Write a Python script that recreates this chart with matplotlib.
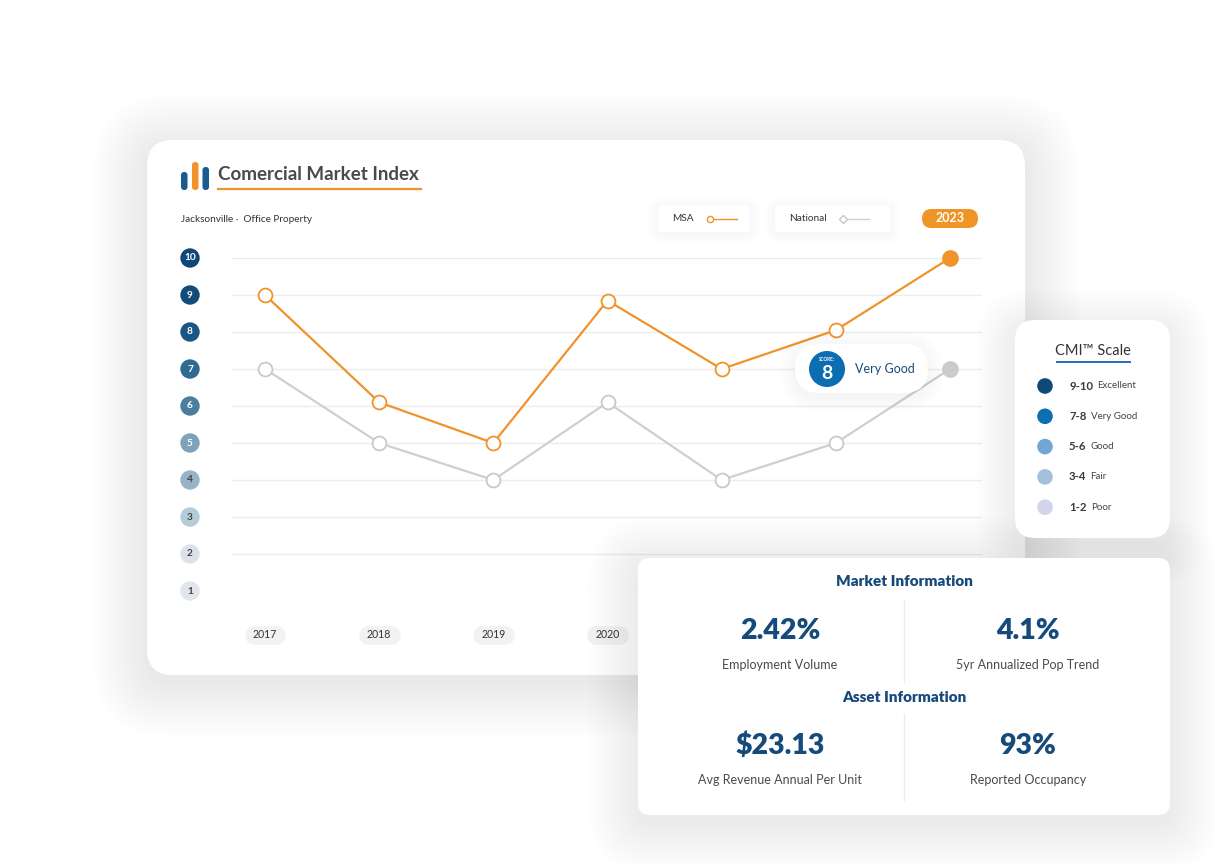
import matplotlib
matplotlib.use("Agg")
import matplotlib.pyplot as plt
from matplotlib.patches import FancyBboxPatch, Circle
import numpy as np

plt.rcParams['font.family'] = ['Lato', 'DejaVu Sans']

# ---------------- data ----------------
years = ["2017", "2018", "2019", "2020", "2021", "2022", "2023"]
msa = [9.0, 6.1, 5.0, 8.85, 7.0, 8.05, 10.0]
national = [7.0, 5.0, 4.0, 6.1, 4.0, 5.0, 7.0]
scores = [1, 2, 3, 4, 5, 6, 7, 8, 9, 10]
score_colors = ["#e1e6ed", "#dde2ea", "#b4cbd8", "#98b3c6", "#7fa2ba",
                "#4b7d9f", "#2f6a92", "#1b5683", "#124c7a", "#0f4876"]
score_text_colors = ["#444", "#444", "#444", "#444", "white",
                     "white", "white", "white", "white", "white"]
scale_ranges = ["9-10", "7-8", "5-6", "3-4", "1-2"]
scale_labels = ["Excellent", "Very Good", "Good", "Fair", "Poor"]
scale_colors = ["#0d4a78", "#0d6eb0", "#72a6d3", "#a6bfdf", "#d3d3ea"]
market_values = ["2.42%", "4.1%"]
market_labels = ["Employment Volume", "5yr Annualized Pop Trend"]
asset_values = ["$23.13", "93%"]
asset_labels = ["Avg Revenue Annual Per Unit", "Reported Occupancy"]
current_score = 8
current_label = "Very Good"

W, H = 1215, 864
ORANGE = "#f0932a"
NAVY = "#154a7a"

fig = plt.figure(figsize=(W / 100, H / 100), dpi=100)
fig.patch.set_facecolor("white")


def pixel_axes(z):
    a = fig.add_axes([0, 0, 1, 1], zorder=z)
    a.set_xlim(0, W)
    a.set_ylim(H, 0)
    a.axis("off")
    a.patch.set_alpha(0)
    return a


def card(a, x0, y0, x1, y1, r, shadow=50, salpha=0.0035, n=20, z=1, offset=8):
    if shadow:
        for s in np.linspace(0, shadow, n):
            a.add_patch(FancyBboxPatch((x0 - s, y0 - s + offset), (x1 - x0) + 2 * s,
                                       (y1 - y0) + 2 * s,
                                       boxstyle=f"round,pad=0,rounding_size={r + s}",
                                       fc="#66758c", ec="none", alpha=salpha, zorder=z))
    a.add_patch(FancyBboxPatch((x0, y0), x1 - x0, y1 - y0,
                               boxstyle=f"round,pad=0,rounding_size={r}",
                               fc="white", ec="none", zorder=z + 0.5))


# ---------------- background / main card ----------------
bg = pixel_axes(0)
card(bg, 147, 140, 1025, 675, 26, shadow=55, salpha=0.0032, n=22)

# logo
for (x0, y0, c) in [(181, 172, "#1a5a8d"), (192, 162, ORANGE), (202.5, 167, "#1a5a8d")]:
    bg.add_patch(FancyBboxPatch((x0, y0), 6.5, 190 - y0,
                                boxstyle="round,pad=0,rounding_size=3",
                                fc=c, ec="none", zorder=3))
bg.text(218, 174, "Comercial Market Index", fontsize=13.5, fontweight="bold",
        color="#4a4a4a", va="center", ha="left", zorder=3)
bg.plot([218, 421], [188.5, 188.5], color=ORANGE, lw=1.6, zorder=3)
bg.text(181, 219, "Jacksonville \u00b7  Office Property", fontsize=7.2,
        color="#333333", va="center", ha="left", zorder=3)

# legend boxes
card(bg, 658, 205, 750, 232, 3, shadow=10, salpha=0.005, n=8, z=2, offset=2)
bg.text(672, 218.5, "MSA", fontsize=7.2, color="#333", va="center", zorder=4)
bg.plot([710, 737], [218.5, 218.5], color=ORANGE, lw=1, zorder=4)
bg.plot([710], [218.5], "o", ms=4.5, mfc="white", mec=ORANGE, mew=1, zorder=5)
card(bg, 775, 205, 890, 232, 3, shadow=10, salpha=0.005, n=8, z=2, offset=2)
bg.text(789, 218.5, "National", fontsize=7.2, color="#333", va="center", zorder=4)
bg.plot([843, 869], [218.5, 218.5], color="#d0d0d0", lw=1, zorder=4)
bg.plot([843], [218.5], "D", ms=4.2, mfc="white", mec="#c8c8c8", mew=1, zorder=5)
# 2023 pill
bg.add_patch(FancyBboxPatch((922, 209), 56, 19, boxstyle="round,pad=0,rounding_size=9.5",
                            fc="#ef9426", ec="none", zorder=3))
bg.text(950, 218.5, years[-1], fontsize=9, fontweight="bold", color="white",
        ha="center", va="center", zorder=4)

# ---------------- data axes ----------------
L, R, T, B = 232, 982, 258, 591
X0, STEP = 265, 114.17
ax = fig.add_axes([L / W, (H - B) / H, (R - L) / W, (B - T) / H], zorder=1)
ax.set_facecolor("none")
ax.axis("off")
ax.set_xlim((L - X0) / STEP, (R - X0) / STEP)
ax.set_ylim(1, 10)
x = np.arange(len(years))

for s in scores:
    ax.axhline(s, color="#ededed", lw=1, zorder=1)

ax.plot(x, national, color="#cfcfcf", lw=1.6, zorder=2, clip_on=False)
ax.plot(x[:-1], national[:-1], "o", ms=10, mfc="white", mec="#c9c9c9", mew=1.3,
        zorder=3, clip_on=False)
ax.plot(x[-1:], national[-1:], "o", ms=11, mfc="#cbcbcb", mec="#cbcbcb",
        zorder=3, clip_on=False)
ax.plot(x, msa, color=ORANGE, lw=1.6, zorder=4, clip_on=False)
ax.plot(x[:-1], msa[:-1], "o", ms=10, mfc="white", mec=ORANGE, mew=1.3,
        zorder=5, clip_on=False)
ax.plot(x[-1:], msa[-1:], "o", ms=11, mfc=ORANGE, mec=ORANGE,
        zorder=5, clip_on=False)

# score "ticks"
tick_x = (190 - X0) / STEP
ax.scatter([tick_x] * len(scores), scores, s=195, c=score_colors, zorder=3,
           clip_on=False, linewidths=0)
for s, tc in zip(scores, score_text_colors):
    ax.text(tick_x, s, str(s), fontsize=7.3, fontweight="bold", color=tc,
            ha="center", va="center", zorder=4)

# year pills
year_y = 1 - (635 - B) / 37.0
for i, yr in enumerate(years):
    ax.plot([i - 0.1, i + 0.1], [year_y, year_y], color="#f2f2f2", lw=13.5,
            solid_capstyle="round", zorder=2, clip_on=False)
    ax.text(i, year_y, yr, fontsize=7.6, color="#333", ha="center", va="center",
            zorder=3)

# ---------------- overlay cards ----------------
ov = pixel_axes(2)

# score badge
card(ov, 795, 344, 928, 393, 24.5, shadow=16, salpha=0.005, n=10, z=1, offset=3)
ov.add_patch(Circle((827, 369), 18, fc="#0c6db1", ec="none", zorder=3))
ov.text(827, 359.5, "SCORE:", fontsize=3.3, fontweight="bold", color="white",
        ha="center", va="center", zorder=4)
ov.text(827, 373.5, str(current_score), fontsize=14, fontweight="bold", color="white",
        ha="center", va="center", zorder=4)
ov.text(855, 369, current_label, fontsize=9, color="#1c4c78",
        ha="left", va="center", zorder=4)

# CMI scale card
card(ov, 1015, 320, 1170, 538, 20, shadow=40, salpha=0.004, n=18, z=1)
ov.text(1093, 351, "CMI\u2122 Scale", fontsize=10.5, color="#333", ha="center",
        va="center", zorder=3)
ov.plot([1057, 1130], [362, 362], color="#1e6fc3", lw=1.4, zorder=3)
for i, (rg, lb, c) in enumerate(zip(scale_ranges, scale_labels, scale_colors)):
    yy = 386 + i * 30.3
    ov.add_patch(Circle((1045, yy), 7.8, fc=c, ec="none", zorder=3))
    t = ov.text(1069, yy, rg, fontsize=8.2, fontweight="bold", color="#3a3a3a",
                ha="left", va="center", zorder=3)
    ov.annotate(lb, xy=(1, 0.5), xycoords=t, xytext=(3, 0), textcoords="offset points",
                fontsize=7, color="#444", ha="left", va="center", zorder=3)

# info card
card(ov, 638, 558, 1170, 815, 12, shadow=50, salpha=0.0035, n=20, z=1)
ov.plot([904, 904], [600, 682], color="#ececec", lw=1, zorder=3)
ov.plot([904, 904], [714, 800], color="#ececec", lw=1, zorder=3)
ov.text(904, 582, "Market Information", fontsize=11, fontweight="heavy", color=NAVY,
        ha="center", va="center", zorder=3)
ov.text(904, 697, "Asset Information", fontsize=11, fontweight="heavy", color=NAVY,
        ha="center", va="center", zorder=3)
for cx, v, lb in zip([780, 1028], market_values, market_labels):
    ov.text(cx, 631, v, fontsize=20.5, fontweight="heavy", color=NAVY,
            ha="center", va="center", zorder=3)
    ov.text(cx, 665, lb, fontsize=9, color="#4a4a4a", ha="center", va="center", zorder=3)
for cx, v, lb in zip([780, 1028], asset_values, asset_labels):
    ov.text(cx, 746, v, fontsize=20.5, fontweight="heavy", color=NAVY,
            ha="center", va="center", zorder=3)
    ov.text(cx, 780, lb, fontsize=9, color="#4a4a4a", ha="center", va="center", zorder=3)

fig.savefig("out.png", dpi=100, facecolor="white")
